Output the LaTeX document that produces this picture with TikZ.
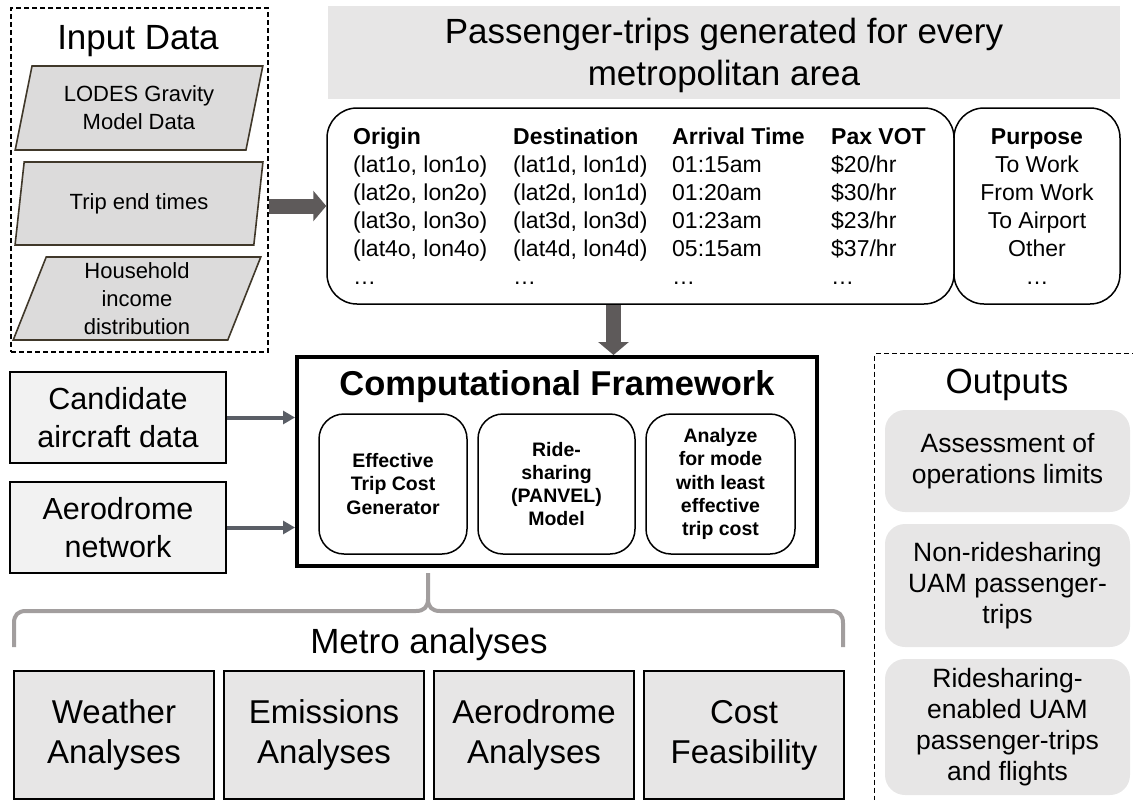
\documentclass[tikz,border=0pt]{standalone}
\usepackage{fontspec}
\setmainfont{Liberation Sans}
\usepackage{xcolor}
\usetikzlibrary{arrows.meta, positioning, shapes.geometric}

\definecolor{panel}{HTML}{E7E6E6}
\definecolor{paper}{HTML}{F2F2F2}
\definecolor{slab}{HTML}{DCDBDB}
\definecolor{slabline}{HTML}{40382A}
\definecolor{fatgray}{HTML}{5E5A5A}
\definecolor{thingray}{HTML}{5A5E66}
\definecolor{bracegray}{HTML}{A29E9E}

\newcommand{\fs}[2]{\fontsize{#1}{#2}\selectfont}

\begin{document}
\begin{tikzpicture}[
    x=1pt, y=-1pt,
    head/.style    = {font=\fs{35}{42}, inner sep=0pt},
    dashbox/.style = {draw, dash pattern=on 5pt off 3pt, line width=1.3pt,
                      inner sep=0pt},
    datain/.style  = {trapezium, trapezium left angle=75,
                      trapezium right angle=105, trapezium stretches=true,
                      minimum width=248pt, minimum height=84pt,
                      draw=slabline, fill=slab, line width=1.6pt,
                      align=center, font=\fs{22}{28}, inner sep=0pt},
    trips/.style   = {draw, rounded corners=30pt, line width=1.5pt,
                      minimum height=196pt, inner sep=0pt},
    col/.style     = {align=left, anchor=north west, inner sep=0pt,
                      font=\fs{23}{28}},
    inbox/.style   = {draw, fill=paper, line width=2pt, align=center,
                      minimum width=216pt, minimum height=91pt,
                      font=\fs{30.5}{38}},
    module/.style  = {draw, rounded corners=25pt, line width=1.5pt,
                      minimum height=140pt, align=center,
                      font=\bfseries\fs{19.5}{23.3}},
    metro/.style   = {draw, fill=panel, line width=2pt, align=center,
                      minimum width=200pt, minimum height=128pt,
                      font=\fs{33}{40}},
    result/.style  = {fill=panel, rounded corners=20pt, align=center,
                      minimum width=245pt, font=\fs{26.5}{31}},
    fat/.style     = {-{Triangle[length=13pt, width=30pt]}, line width=15pt,
                      draw=fatgray},
    thin/.style    = {-{Triangle[length=12pt, width=13pt]}, line width=4pt,
                      draw=thingray}
]
\useasboundingbox (0,0) rectangle (1133,800);

% ---------------- input data ----------------
\node[dashbox, minimum width=257pt, minimum height=344pt] (indata) at (139.5,180) {};
\node[head, anchor=base] (intitle) at (138,50) {Input Data};
\node[datain] (lodes)  at (139,108)   {LODES Gravity\\Model Data};
\node[datain, minimum height=83pt] (tend)   at (139,203.5) {Trip end times};
\node[datain, minimum height=83pt] (income) at (137,298.5) {Household\\income\\distribution};

% ---------------- passenger-trips table ----------------
\node[fill=panel, minimum width=792pt, minimum height=93pt] (trtitle) at (724,52.5) {};
\node[align=center, inner sep=0pt, font=\fs{35}{42}] (trtext) at (724,55.5)
      {Passenger-trips generated for every\\metropolitan area};
\node[trips, minimum width=627pt] (table)   at (640.5,206) {};
\node[trips, minimum width=166pt] (purpose) at (1037,206) {};

\node[col] (corig) at (353,128) {\textbf{Origin}\\(lat1o, lon1o)\\(lat2o, lon2o)\\(lat3o, lon3o)\\(lat4o, lon4o)\\…};
\node[col] (cdest) at (513,128) {\textbf{Destination}\\(lat1d, lon1d)\\(lat2d, lon1d)\\(lat3d, lon3d)\\(lat4d, lon4d)\\…};
\node[col] (carr)  at (672,128) {\textbf{Arrival Time}\\01:15am\\01:20am\\01:23am\\05:15am\\…};
\node[col] (cvot)  at (831,128) {\textbf{Pax VOT}\\\$20/hr\\\$30/hr\\\$23/hr\\\$37/hr\\…};
\node[col, align=center, anchor=north] (cpur) at (1037,128)
      {\textbf{Purpose}\\To Work\\From Work\\To Airport\\Other\\…};

% ---------------- framework ----------------
\node[draw, line width=4pt, minimum width=520pt, minimum height=209pt] (frame) at (557,461.5) {};
\node[anchor=base, inner sep=0pt, font=\bfseries\fs{34.5}{40}] (frtitle) at (557,395) {Computational Framework};
\node[module, minimum width=148pt] (etc)   at (393,484)   {Effective\\Trip Cost\\Generator};
\node[module, minimum width=157pt] (panel) at (556.5,484) {Ride-\\sharing\\(PANVEL)\\Model};
\node[module, minimum width=149pt] (least) at (720.5,484) {Analyze\\for mode\\with least\\effective\\trip cost};

% ---------------- side inputs ----------------
\node[inbox] (aircraft) at (118,417.5) {Candidate\\aircraft data};
\node[inbox] (aero)     at (118,527.5) {Aerodrome\\network};

% ---------------- connectors ----------------
\draw[fat] (indata.east |- table.west) -- (table.west);
\draw[fat] ([xshift=-27pt]table.south) -- ([xshift=-27pt]table.south |- frame.north);
\draw[thin] (aircraft.east) -- (aircraft.east -| frame.west);
\draw[thin] (aero.east) -- (aero.east -| frame.west);

% ---------------- metro analyses ----------------
\coordinate (cusp) at (428,573);
\draw[bracegray, line width=4pt]
    (14,647) -- (14,623) .. controls (14,615) and (18,611) .. (26,611)
    -- (416,611) .. controls (424,611) and (428,607) .. (428,599) -- (cusp);
\draw[bracegray, line width=4pt]
    (843,647) -- (843,623) .. controls (843,615) and (839,611) .. (831,611)
    -- (440,611) .. controls (432,611) and (428,607) .. (428,599);
\node[head, anchor=base] (metrotitle) at (429,653) {Metro analyses};

\node[metro] (weather) at (114,735) {Weather\\Analyses};
\node[metro] (emis)    at (324,735) {Emissions\\Analyses};
\node[metro] (aerodr)  at (534,735) {Aerodrome\\Analyses};
\node[metro] (cost)    at (744,735) {Cost\\Feasibility};

% ---------------- outputs ----------------
\node[dashbox, minimum width=280pt, minimum height=470pt, anchor=north west] (outdata) at (874,353) {};
\node[head, anchor=base] (outtitle) at (1007,393) {Outputs};
\node[result, minimum height=102pt] (limits)  at (1007.5,461)   {Assessment of\\operations limits};
\node[result, minimum height=123pt] (nonride) at (1007.5,585.5) {Non-ridesharing\\UAM passenger-\\trips};
\node[result, minimum height=136pt] (ride)    at (1007.5,727)   {Ridesharing-\\enabled UAM\\passenger-trips\\and flights};

\end{tikzpicture}
\end{document}
